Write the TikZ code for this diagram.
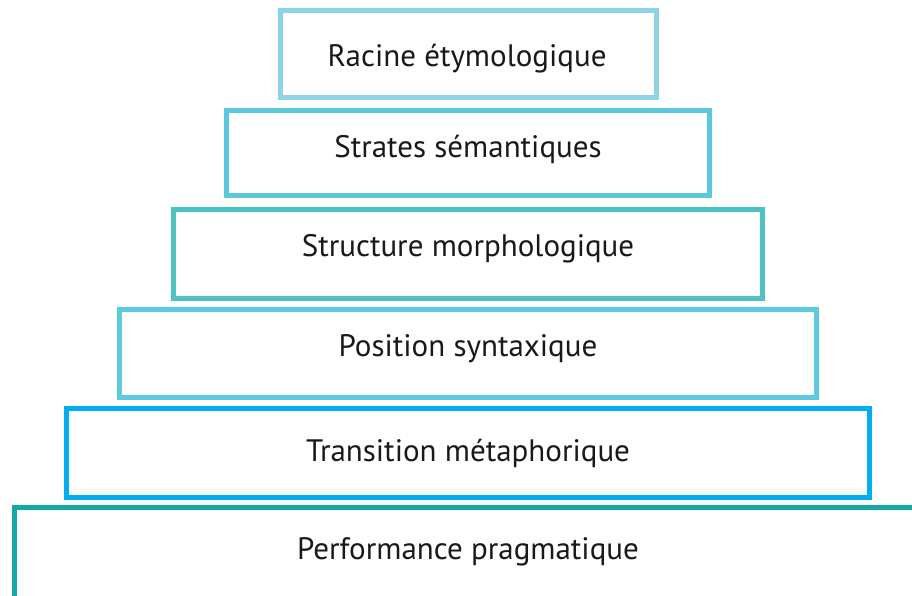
\documentclass[tikz,border=0pt]{standalone}
\usepackage{fontspec}
\setmainfont{PT Sans}
\definecolor{cA}{HTML}{8DD5E6}
\definecolor{cB}{HTML}{5BC8DE}
\definecolor{cC}{HTML}{4CC3C3}
\definecolor{cD}{HTML}{5CCBE0}
\definecolor{cE}{HTML}{00AEEF}
\definecolor{cF}{HTML}{13A7A6}
\begin{document}
\begin{tikzpicture}[x=1pt,y=-1pt,
  tier/.style={draw, line width=5pt, fill=white, inner sep=0pt},
  lbl/.style={inner sep=0pt, anchor=base, font=\fontsize{31}{36}\selectfont, text=black!90}]
\useasboundingbox (0,0) rectangle (912,596);
\clip (0,0) rectangle (912,596);
\node[tier, draw=cA, minimum width=376pt, minimum height=87pt] (t1) at (468.5,54) {};
\node[lbl] (l1) at (467,67) {Racine étymologique};
\node[tier, draw=cB, minimum width=483pt, minimum height=85pt] (t2) at (468,153) {};
\node[lbl] (l2) at (468,158) {Strates sémantiques};
\node[tier, draw=cC, minimum width=589pt, minimum height=89pt] (t3) at (468,253.5) {};
\node[lbl] (l3) at (468,256) {Structure morphologique};
\node[tier, draw=cD, minimum width=697pt, minimum height=88pt] (t4) at (468,353.5) {};
\node[lbl] (l4) at (468,356) {Position syntaxique};
\node[tier, draw=cE, minimum width=803pt, minimum height=89pt] (t5) at (468,452.5) {};
\node[lbl] (l5) at (468,461) {Transition métaphorique};
\node[tier, draw=cF, minimum width=907pt, minimum height=100pt] (t6) at (468,557.5) {};
\node[lbl] (l6) at (468,559) {Performance pragmatique};
\end{tikzpicture}
\end{document}
